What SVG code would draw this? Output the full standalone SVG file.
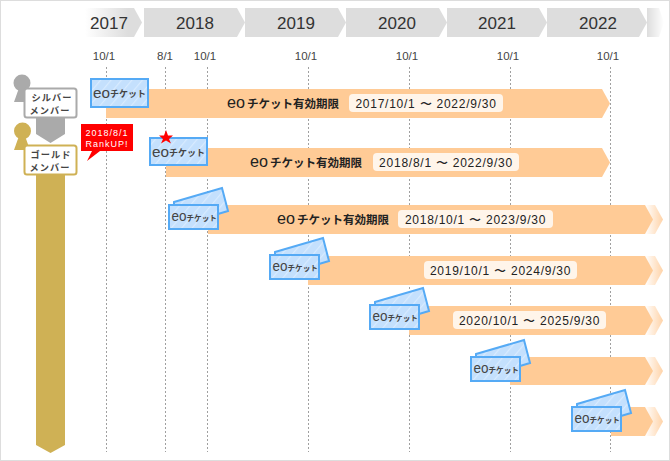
<svg xmlns="http://www.w3.org/2000/svg" width="670" height="461" viewBox="0 0 670 461">
<style>
.y{font:17px "Liberation Sans",sans-serif;fill:#333;text-anchor:middle}
.d{font:11.5px "Liberation Sans",sans-serif;fill:#444;text-anchor:middle}
.g{fill:#ddd}
.dot{stroke:#a0a0a0;stroke-width:1;stroke-dasharray:2 2;fill:none}
.bar{fill:#ffcb96}
.pill{fill:#fff;fill-opacity:.8}
.dt{font:12px "Liberation Sans",sans-serif;fill:#222;text-anchor:middle;letter-spacing:.75px}
.lb{font:bold 11.5px "Noto Sans CJK JP",sans-serif;fill:#222}
.eo{font:17px "Liberation Sans",sans-serif;fill:#222}
.t{fill:url(#st);stroke:#55aaf5;stroke-width:2}
.te{font:14px "Liberation Sans",sans-serif;fill:#444}
.tj{font:bold 7.6px "Noto Sans CJK JP",sans-serif;fill:#444}
.tk{font:bold 9px "Noto Sans CJK JP",sans-serif;fill:#444}
.m{font:bold 9.2px "Noto Sans CJK JP",sans-serif;fill:#444;text-anchor:middle;letter-spacing:1.1px}
.r{font:9px "Liberation Sans",sans-serif;fill:#fff;text-anchor:middle;letter-spacing:1px}
</style>
<defs>
<linearGradient id="g0"><stop offset="0" stop-color="#fff"/><stop offset=".75" stop-color="#ddd"/></linearGradient>
<linearGradient id="g1"><stop offset="0" stop-color="#ddd"/><stop offset="1" stop-color="#fff"/></linearGradient>
<linearGradient id="g2"><stop offset="0" stop-color="#fff"/><stop offset="1" stop-color="#ffd3a8"/></linearGradient>
<pattern id="st" width="8" height="8" patternUnits="userSpaceOnUse" patternTransform="rotate(40)">
<rect width="8" height="8" fill="#c4e0fd"/><rect width="1.2" height="8" fill="#d8ebff"/>
</pattern>
<g id="tk"><rect class="t" x="0" y="0" width="49" height="24"/><text class="te" x="2.500" y="16" textLength="15" lengthAdjust="spacingAndGlyphs">eo</text><text class="tj" x="17.500" y="15.500">チケット</text></g>
<g id="tkb"><path class="t" d="M5 -3 53 -17 59 6 49 9 5 9Z"/></g>
</defs>
<rect x=".5" y=".5" width="669" height="460" fill="#fff" stroke="#ddd" stroke-width="1"/>
<g id="timeline">
<path d="M85 8H134L142 22.500 134 37H85Z" fill="url(#g0)"/><text class="y" x="109" y="29">2017</text>
<path class="g" d="M144 8H237L245 22.500 237 37H144Z"/><text class="y" x="195" y="29">2018</text>
<path class="g" d="M245 8H338L346 22.500 338 37H245Z"/><text class="y" x="296" y="29">2019</text>
<path class="g" d="M346 8H439L447 22.500 439 37H346Z"/><text class="y" x="397" y="29">2020</text>
<path class="g" d="M447 8H539L547 22.500 539 37H447Z"/><text class="y" x="497" y="29">2021</text>
<path class="g" d="M547 8H639L647 22.500 639 37H547Z"/><text class="y" x="598" y="29">2022</text>
<path d="M647 8H659L664 22.500 659 37H647L647 37 647 8Z" fill="url(#g1)"/>
<text class="d" x="104" y="60">10/1</text><text class="d" x="165" y="60">8/1</text><text class="d" x="205" y="60">10/1</text><text class="d" x="306" y="60">10/1</text><text class="d" x="407" y="60">10/1</text><text class="d" x="508" y="60">10/1</text><text class="d" x="608" y="60">10/1</text>
</g>
<g id="connectors">
<path class="dot" d="M106.500 67V452M165.500 67V452M207.500 67V452M308.500 67V452M409.500 67V452M510.500 67V452M610.500 67V452"/>
</g>
<g id="bars">
<path class="bar" d="M106 89H602L610 103.500 602 118H106Z"/>
<path class="bar" d="M166 148H602L610 162.500 602 177H166Z"/>
<g id="b3"><path d="M645 205H655L663 219.500 655 234H645Z" fill="url(#g2)"/><path class="bar" d="M208 205H645L653 219.500 645 234H208Z"/></g>
<g id="b4"><path d="M645 256H655L663 270.500 655 285H645Z" fill="url(#g2)"/><path class="bar" d="M308 256H645L653 270.500 645 285H308Z"/></g>
<g id="b5"><path d="M645 306H655L663 320.500 655 335H645Z" fill="url(#g2)"/><path class="bar" d="M409 306H645L653 320.500 645 335H409Z"/></g>
<g id="b6"><path d="M645 357H655L663 371 655 385H645Z" fill="url(#g2)"/><path class="bar" d="M510 357H645L653 371 645 385H510Z"/></g>
<g id="b7"><path d="M645 407H655L663 421.500 655 436H645Z" fill="url(#g2)"/><path class="bar" d="M611 407H645L653 421.500 645 436H611Z"/></g>
</g>
<g id="labels">
<text class="eo" x="227" y="108" textLength="18" lengthAdjust="spacingAndGlyphs">eo</text><text class="lb" x="247" y="107.500">チケット有効期限</text>
<rect class="pill" x="349" y="94" width="154" height="18" rx="4"/><text class="dt" x="426" y="107.500">2017/10/1 〜 2022/9/30</text>
<text class="eo" x="250" y="167" textLength="18" lengthAdjust="spacingAndGlyphs">eo</text><text class="lb" x="270" y="166.500">チケット有効期限</text>
<rect class="pill" x="373" y="153" width="146" height="18" rx="4"/><text class="dt" x="446" y="166.500">2018/8/1 〜 2022/9/30</text>
<text class="eo" x="277" y="224" textLength="18" lengthAdjust="spacingAndGlyphs">eo</text><text class="lb" x="297" y="223.500">チケット有効期限</text>
<rect class="pill" x="398" y="210" width="155" height="18" rx="4"/><text class="dt" x="475.500" y="223.500">2018/10/1 〜 2023/9/30</text>
<rect class="pill" x="424" y="261" width="153" height="18" rx="4"/><text class="dt" x="500.500" y="274.500">2019/10/1 〜 2024/9/30</text>
<rect class="pill" x="453" y="311" width="153" height="18" rx="4"/><text class="dt" x="529.500" y="324.500">2020/10/1 〜 2025/9/30</text>
</g>
<g id="ticket1"><rect class="t" x="91" y="79" width="57" height="28"/><text class="te" x="93" y="98" style="font-size:15px" textLength="17" lengthAdjust="spacingAndGlyphs">eo</text><text class="tk" x="110" y="97">チケット</text></g>
<g id="ticket2"><rect class="t" x="150" y="138" width="57" height="27"/><text class="te" x="152" y="157" style="font-size:15px" textLength="17" lengthAdjust="spacingAndGlyphs">eo</text><text class="tk" x="169" y="156">チケット</text></g>
<polygon id="star" points="166,130 168,135.500 173,135.500 169,139 171,143.500 166,140.500 161,143.500 163,139 159,135.500 164,135.500" fill="#f00"/>
<g id="ticket3" transform="translate(169 205)"><use href="#tkb"/><use href="#tk"/></g>
<g id="ticket4" transform="translate(270 255)"><use href="#tkb"/><use href="#tk"/></g>
<g id="ticket5" transform="translate(370 305)"><use href="#tkb"/><use href="#tk"/></g>
<g id="ticket6" transform="translate(471 357)"><use href="#tkb"/><use href="#tk"/></g>
<g id="ticket7" transform="translate(572 407)"><use href="#tkb"/><use href="#tk"/></g>
<g id="silver">
<circle cx="22" cy="83" r="8.500" fill="#aaa"/><path d="M19 88H25L29 102H14Z" fill="#aaa"/>
<path d="M36 118H65V134L50.500 143 36 134Z" fill="#aaa"/>
<rect x="24.500" y="88.500" width="52" height="29" rx="2.500" fill="#fff" stroke="#aaa" stroke-width="2"/>
<text class="m" x="52" y="100.500">シルバー</text><text class="m" x="50" y="114">メンバー</text>
</g>
<g id="gold">
<path d="M36 170H65V445L50.500 453 36 445Z" fill="#cfb155"/>
<circle cx="22.500" cy="131" r="8.500" fill="#cfb155"/><path d="M19 136H25L30 150H14Z" fill="#cfb155"/>
<rect x="24.500" y="145.500" width="52" height="29" rx="2.500" fill="#fff" stroke="#cfb155" stroke-width="2"/>
<text class="m" x="51" y="157.500">ゴールド</text><text class="m" x="50" y="171">メンバー</text>
</g>
<g id="rankup">
<path d="M81 124H133V151H100L87 161 92 151H81Z" fill="#f00"/>
<text class="r" x="107" y="136">2018/8/1</text><text class="r" x="107" y="147">RankUP!</text>
</g>
</svg>
